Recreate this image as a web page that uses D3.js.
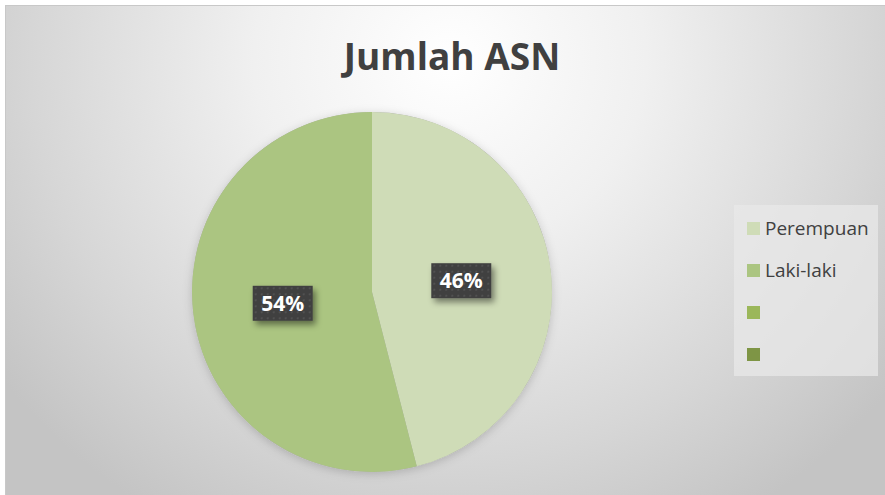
<!DOCTYPE html>
<html><head><meta charset="utf-8">
<script src="https://cdn.jsdelivr.net/npm/d3@7"></script>
<style>html,body{margin:0;padding:0;background:#fff;}svg{display:block;}</style>
</head><body>
<svg id="c" width="885" height="495"></svg>
<script>
const categories = ["Perempuan", "Laki-laki"];
const values = [46, 54];
const legendLabels = ["Perempuan", "Laki-laki", "", ""];
const legendColors = ["#cfdcb7", "#abc581", "#9bb75a", "#7e9545"];
const title = "Jumlah ASN";

const svg = d3.select("#c");
const defs = svg.append("defs");
const rg = defs.append("radialGradient").attr("id","bg")
  .attr("gradientUnits","userSpaceOnUse").attr("cx",450).attr("cy",60).attr("r",560)
  .attr("gradientTransform","translate(450,60) scale(1,0.95) translate(-450,-60)");
rg.append("stop").attr("offset","0").attr("stop-color","#ffffff");
rg.append("stop").attr("offset","0.35").attr("stop-color","#f0f0f0");
rg.append("stop").attr("offset","0.75").attr("stop-color","#d6d6d6");
rg.append("stop").attr("offset","1").attr("stop-color","#c4c4c4");
const pat = defs.append("pattern").attr("id","dots").attr("width",6).attr("height",6).attr("patternUnits","userSpaceOnUse");
pat.append("rect").attr("width",6).attr("height",6).attr("fill","#3f3f3f");
pat.append("circle").attr("cx",3).attr("cy",3).attr("r",1.1).attr("fill","#555555");
const sh = defs.append("filter").attr("id","sh").attr("x","-30%").attr("y","-30%").attr("width","160%").attr("height","180%");
sh.append("feDropShadow").attr("dx",3).attr("dy",4).attr("stdDeviation",3).attr("flood-color","#000").attr("flood-opacity",0.45);
const psh = defs.append("filter").attr("id","psh").attr("x","-20%").attr("y","-20%").attr("width","140%").attr("height","140%");
psh.append("feDropShadow").attr("dx",0).attr("dy",2).attr("stdDeviation",5).attr("flood-color","#000").attr("flood-opacity",0.18);

svg.append("rect").attr("x",5).attr("y",5).attr("width",880).attr("height",490).attr("fill","url(#bg)");
svg.append("line").attr("x1",5).attr("x2",885).attr("y1",5.5).attr("y2",5.5).attr("stroke","#c8c8c8");
svg.append("line").attr("x1",5.5).attr("x2",5.5).attr("y1",5).attr("y2",495).attr("stroke","#c8c8c8");

svg.append("text").attr("x",452).attr("y",70).attr("text-anchor","middle")
  .attr("font-family","'Open Sans', sans-serif").attr("font-weight","bold").attr("font-size",37)
  .attr("fill","#404040").text(title);

const cx = 372, cy = 292, R = 180;
const pie = d3.pie().sort(null).value(d => d)(values);
const arc = d3.arc().innerRadius(0).outerRadius(R);
const colors = d3.scaleOrdinal().domain(categories).range(legendColors);
const g = svg.append("g").attr("transform",`translate(${cx},${cy})`);
g.append("circle").attr("r",R).attr("fill","#aaa").attr("filter","url(#psh)");
g.selectAll("path.s").data(pie).join("path").attr("class","s")
  .attr("d",arc).attr("fill",(d,i)=>colors(categories[i]));

const labelArc = d3.arc().innerRadius(R*0.5).outerRadius(R*0.5);
pie.forEach((d,i) => {
  const [x,y] = labelArc.centroid(d);
  const lg = g.append("g").attr("transform",`translate(${x},${y})`);
  lg.append("rect").attr("x",-30).attr("y",-17.5).attr("width",60).attr("height",35)
    .attr("fill","url(#dots)").attr("filter","url(#sh)");
  lg.append("text").attr("text-anchor","middle").attr("dy","0.36em")
    .attr("font-family","'Open Sans', sans-serif").attr("font-weight","bold").attr("font-size",21)
    .attr("fill","#ffffff").text(Math.round(d.data) + "%");
});

const lgd = svg.append("g");
lgd.append("rect").attr("x",734).attr("y",205).attr("width",144).attr("height",171).attr("fill","#e8e8e8").attr("fill-opacity",0.75);
legendLabels.forEach((t,i) => {
  const y = 222 + i*42;
  lgd.append("rect").attr("x",747).attr("y",y).attr("width",13).attr("height",13).attr("fill",legendColors[i]);
  lgd.append("text").attr("x",765).attr("y",y+13).attr("font-family","'Open Sans', sans-serif")
    .attr("font-size",19).attr("fill","#404040").text(t);
});
</script>
</body></html>
